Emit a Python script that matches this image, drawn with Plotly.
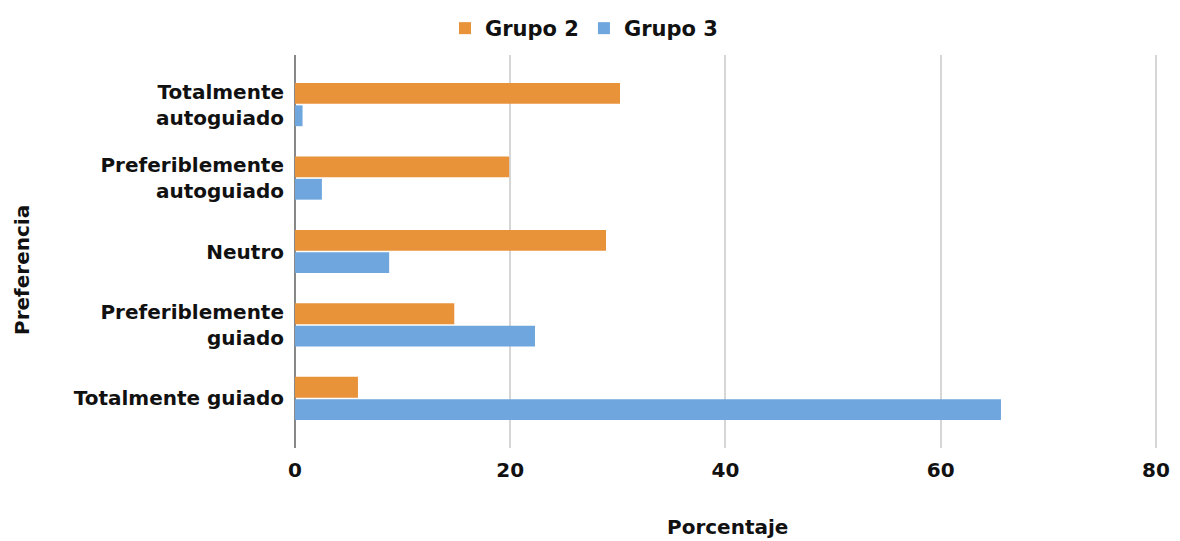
import plotly.graph_objects as go

categories = ["Totalmente<br>autoguiado", "Preferiblemente<br>autoguiado", "Neutro",
              "Preferiblemente<br>guiado", "Totalmente guiado"]
grupo2 = [30.2, 19.9, 28.9, 14.8, 5.85]
grupo3 = [0.7, 2.5, 8.75, 22.3, 65.6]
x_ticks = [0, 20, 40, 60, 80]

ORANGE = "#E8923A"
BLUE = "#6FA6DD"
FONT = "DejaVu Sans"
TXT = "#111111"

fig = go.Figure()
fig.add_trace(go.Bar(y=categories, x=grupo2, name="Grupo 2", orientation="h",
                     marker=dict(color=ORANGE, line=dict(width=0))))
fig.add_trace(go.Bar(y=categories, x=grupo3, name="Grupo 3", orientation="h",
                     marker=dict(color=BLUE, line=dict(width=0))))

OFF = 8  # page body margin
W, H = 1180 - OFF, 541 - OFF
L, T = 295 - OFF, 55 - OFF
R = W - (1157 - OFF)
B = H - (448 - OFF)
pw = W - L - R
ph = H - T - B

fig.update_layout(
    width=W, height=H,
    margin=dict(l=L, r=R, t=T, b=B, autoexpand=False),
    paper_bgcolor="white", plot_bgcolor="white",
    barmode="group", bargap=0.39, bargroupgap=0.07,
    font=dict(family=FONT, color=TXT),
    showlegend=True,
    legend=dict(orientation="h", x=(584 - OFF) / W, xanchor="center", xref="container",
                y=1, yanchor="top", yref="container",
                font=dict(family=FONT, size=21, weight="bold", color=TXT),
                itemwidth=30, traceorder="normal"),
    xaxis=dict(range=[0, 80.1], tickvals=x_ticks, showgrid=True, gridcolor="#D6D6D6",
               gridwidth=1.5, zeroline=True, zerolinecolor="#888888", zerolinewidth=2,
               showline=False, ticks="", ticklabelstandoff=8,
               tickfont=dict(family=FONT, size=20, weight="bold", color=TXT)),
    yaxis=dict(type="category", categoryorder="array", categoryarray=categories,
               range=[4.675, -0.675], showgrid=False, zeroline=False, showline=False,
               ticks="", ticklabelstandoff=10,
               tickfont=dict(family=FONT, size=20, weight="bold", color=TXT)),
    annotations=[
        dict(text="Porcentaje", xref="paper", yref="paper", x=(727 - 295) / pw,
             y=-(527 - 448) / ph, xanchor="center", yanchor="middle",
             showarrow=False, font=dict(family=FONT, size=20, weight="bold", color=TXT)),
        dict(text="Preferencia", xref="paper", yref="paper", x=(22 - 295) / pw,
             y=1 - (270 - 55) / ph, xanchor="center", yanchor="middle", textangle=-90,
             showarrow=False, font=dict(family=FONT, size=20, weight="bold", color=TXT)),
    ],
)

fig.write_html("out.html")
